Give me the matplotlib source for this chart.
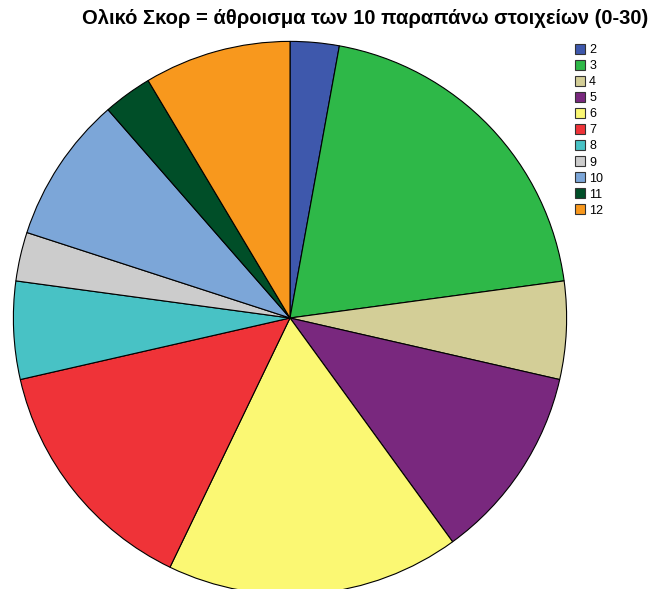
import matplotlib.pyplot as plt
from matplotlib.patches import Patch

plt.rcParams['font.family'] = ['Liberation Sans', 'DejaVu Sans']

# συχνότητες ανά τιμή σκορ
labels = ['2', '3', '4', '5', '6', '7', '8', '9', '10', '11', '12']
counts = [1, 7, 2, 4, 6, 5, 2, 1, 3, 1, 3]
colors = ['#3E58AC', '#2EB848', '#D3CE97', '#79287E', '#FBF873', '#EF3338',
          '#48C2C5', '#CCCCCC', '#7CA6D8', '#004E28', '#F8981D']

fig = plt.figure(figsize=(6.52, 5.89), dpi=100)
ax = fig.add_axes([12/652, -7/589, 556/652, 556/589])
ax.pie(counts, colors=colors, startangle=90, counterclock=False,
       wedgeprops={'edgecolor': 'black', 'linewidth': 0.8})
ax.set_xlim(-1.005, 1.005)
ax.set_ylim(-1.005, 1.005)
ax.set_aspect('equal')
ax.axis('off')

fig.text(365/652, 1 - 19/589, 'Ολικό Σκορ = άθροισμα των 10 παραπάνω στοιχείων (0-30)',
         ha='center', va='center', fontsize=14.5, fontweight='bold')

handles = [Patch(facecolor=c, edgecolor='#333333', linewidth=0.8) for c in colors]
fig.legend(handles, labels, loc='upper left', bbox_to_anchor=(566/652, 1 - 35/589),
           frameon=False, fontsize=9, handlelength=0.85, handleheight=0.85,
           handletextpad=0.3, labelspacing=0.3, borderpad=0.2)

fig.savefig('out.png', dpi=100)
